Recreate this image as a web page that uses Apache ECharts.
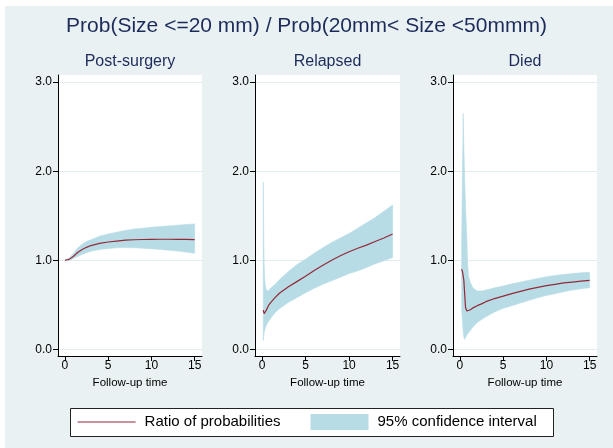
<!DOCTYPE html>
<html>
<head>
<meta charset="utf-8">
<script src="https://cdn.jsdelivr.net/npm/echarts@6/dist/echarts.min.js"></script>
<style>
html,body{margin:0;padding:0;background:#ffffff;}
#bg{position:absolute;left:5px;top:6px;width:608px;height:442px;background:#E9F1F3;}
#chart{position:absolute;left:0;top:0;width:613px;height:448px;}
</style>
</head>
<body>
<div id="bg"></div>
<div id="chart"></div>
<script>
// ---- data ----
const mainTitle = 'Prob(Size <=20 mm) / Prob(20mm< Size <50mmm)';
const panelTitles = ['Post-surgery', 'Relapsed', 'Died'];
const xTicks = [0, 5, 10, 15];
const yTicks = [0, 1, 2, 3];
const xAxisTitle = 'Follow-up time';
const lineName = 'Ratio of probabilities';
const ciName = '95% confidence interval';

// Post-surgery
const time1  = [0, 0.5, 1, 1.5, 2, 2.5, 3, 4, 5, 6, 7, 8, 9, 10, 11, 12, 13, 14, 15];
const ratio1 = [1.0, 1.01, 1.045, 1.09, 1.12, 1.145, 1.165, 1.19, 1.205, 1.215, 1.225, 1.23, 1.233, 1.235, 1.236, 1.236, 1.235, 1.234, 1.232];
const upper1 = [1.0, 1.025, 1.08, 1.14, 1.18, 1.21, 1.23, 1.27, 1.295, 1.315, 1.335, 1.35, 1.36, 1.37, 1.378, 1.386, 1.394, 1.401, 1.408];
const lower1 = [1.0, 1.0, 1.02, 1.045, 1.065, 1.085, 1.1, 1.12, 1.132, 1.14, 1.142, 1.14, 1.135, 1.128, 1.122, 1.113, 1.103, 1.092, 1.079];

// Relapsed
const time2  = [0.15, 0.2, 0.25, 0.3, 0.4, 0.5, 0.6, 0.8, 1.0, 1.5, 2, 3, 4, 5, 6, 7, 8, 9, 10, 11, 12, 13, 14, 15];
const ratio2 = [0.44, 0.42, 0.40, 0.386, 0.41, 0.44, 0.46, 0.50, 0.525, 0.58, 0.63, 0.70, 0.76, 0.82, 0.885, 0.945, 1.0, 1.05, 1.095, 1.135, 1.17, 1.21, 1.25, 1.295];
const upper2 = [1.88, 1.30, 0.95, 0.80, 0.70, 0.665, 0.655, 0.665, 0.685, 0.73, 0.78, 0.87, 0.95, 1.01, 1.08, 1.14, 1.20, 1.25, 1.30, 1.36, 1.42, 1.48, 1.55, 1.62];
const lower2 = [0.10, 0.14, 0.18, 0.21, 0.245, 0.27, 0.29, 0.32, 0.35, 0.41, 0.455, 0.525, 0.58, 0.635, 0.685, 0.73, 0.77, 0.81, 0.85, 0.88, 0.92, 0.96, 0.995, 1.03];

// Died
const time3  = [0.2, 0.3, 0.38, 0.45, 0.55, 0.65, 0.8, 0.9, 1.0, 1.2, 1.5, 2, 2.5, 3, 4, 5, 6, 7, 8, 9, 10, 11, 12, 13, 14, 15];
const ratio3 = [0.90, 0.87, 0.85, 0.78, 0.62, 0.47, 0.43, 0.432, 0.435, 0.445, 0.465, 0.49, 0.51, 0.535, 0.57, 0.597, 0.625, 0.65, 0.675, 0.695, 0.715, 0.73, 0.745, 0.755, 0.765, 0.775];
const upper3 = [1.2, 2.0, 2.65, 2.3, 1.9, 1.6, 1.25, 0.95, 0.82, 0.75, 0.69, 0.655, 0.655, 0.665, 0.69, 0.71, 0.735, 0.755, 0.775, 0.795, 0.815, 0.83, 0.84, 0.85, 0.86, 0.865];
const lower3 = [0.45, 0.3, 0.2, 0.14, 0.112, 0.13, 0.16, 0.175, 0.185, 0.21, 0.25, 0.30, 0.335, 0.365, 0.42, 0.46, 0.49, 0.52, 0.55, 0.58, 0.605, 0.625, 0.645, 0.665, 0.68, 0.692];

// ---- styles ----
const FONT = '"Liberation Sans", Arial, sans-serif';
const LINE_COLOR = '#922A38';
const CI_COLOR = '#B8DCE6';
const TITLE_COLOR = '#1C2B5A';
const GRID_LINE = '#E3EDEF';

const panels = [
  {t: time1, r: ratio1, u: upper1, l: lower1, left: 58, width: 144},
  {t: time2, r: ratio2, u: upper2, l: lower2, left: 255, width: 145},
  {t: time3, r: ratio3, u: upper3, l: lower3, left: 453, width: 144}
];

const grids = [], xAxes = [], yAxes = [], series = [], graphics = [];

graphics.push({type: 'text', x: 306.5, y: 26, style: {text: mainTitle, align: 'center', verticalAlign: 'middle', font: 'normal 21px ' + FONT, fill: TITLE_COLOR}});

function bandRenderer(p) {
  return function (params, api) {
    if (params.dataIndex !== 0) return;
    const pts = [];
    for (let k = 0; k < p.t.length; k++) pts.push(api.coord([p.t[k], p.u[k]]));
    for (let k = p.t.length - 1; k >= 0; k--) pts.push(api.coord([p.t[k], p.l[k]]));
    return {
      type: 'polygon',
      shape: {points: pts},
      style: {fill: CI_COLOR, stroke: CI_COLOR, lineWidth: 0.6}
    };
  };
}

panels.forEach((p, i) => {
  grids.push({left: p.left, top: 75, width: p.width, height: 281, show: true, backgroundColor: '#ffffff', borderWidth: 0});
  graphics.push({type: 'text', x: p.left + p.width / 2, y: 62, style: {text: panelTitles[i], align: 'center', verticalAlign: 'middle', font: 'normal 16px ' + FONT, fill: TITLE_COLOR}});
  xAxes.push({
    type: 'value', gridIndex: i, min: -0.8, max: 15.85,
    axisLine: {show: true, onZero: false, lineStyle: {color: '#000', width: 1}},
    axisTick: {show: true, length: 5, customValues: xTicks, lineStyle: {color: '#000'}},
    axisLabel: {customValues: xTicks, margin: 4, fontSize: 12, color: '#000', fontFamily: FONT},
    splitLine: {show: false},
    name: xAxisTitle, nameLocation: 'middle', nameGap: 19,
    nameTextStyle: {fontSize: 11.5, color: '#000', fontFamily: FONT}
  });
  yAxes.push({
    type: 'value', gridIndex: i, min: -0.075, max: 3.08,
    axisLine: {show: true, onZero: false, lineStyle: {color: '#000', width: 1}},
    axisTick: {show: true, length: 5, customValues: yTicks, lineStyle: {color: '#000'}},
    axisLabel: {customValues: yTicks, margin: 6, fontSize: 12, color: '#000', fontFamily: FONT, formatter: v => v.toFixed(1)},
    splitLine: {show: true, lineStyle: {color: GRID_LINE, width: 1}}
  });
  series.push({
    type: 'custom', name: ciName, xAxisIndex: i, yAxisIndex: i,
    data: p.t.map((t, k) => [t, p.l[k], p.u[k]]),
    encode: {x: 0, y: [1, 2]},
    renderItem: bandRenderer(p),
    itemStyle: {color: CI_COLOR},
    silent: true, z: 2
  });
  series.push({
    type: 'line', name: lineName, xAxisIndex: i, yAxisIndex: i, symbol: 'none',
    data: p.t.map((t, k) => [t, p.r[k]]),
    lineStyle: {color: LINE_COLOR, width: 1.2}, itemStyle: {color: LINE_COLOR},
    silent: true, z: 3
  });
});

// legend box
graphics.push({type: 'rect', shape: {x: 70.5, y: 408.5, width: 483, height: 28}, style: {fill: '#ffffff', stroke: '#222', lineWidth: 1}, z: 0});

const chart = echarts.init(document.getElementById('chart'), null, {renderer: 'canvas'});
chart.setOption({
  animation: false,
  backgroundColor: 'transparent',
  grid: grids,
  xAxis: xAxes,
  yAxis: yAxes,
  series: series,
  graphic: graphics,
  legend: {
    data: [
      {name: lineName, itemStyle: {opacity: 0}, lineStyle: {width: 1.2, color: LINE_COLOR}},
      {name: ciName, icon: 'rect'}
    ],
    left: 77, top: 414, padding: 0,
    itemWidth: 58, itemHeight: 16, itemGap: 30,
    textStyle: {fontSize: 15, color: '#000', fontFamily: FONT, padding: [0, 0, 0, 4]},
    z: 10
  }
});
</script>
</body>
</html>
